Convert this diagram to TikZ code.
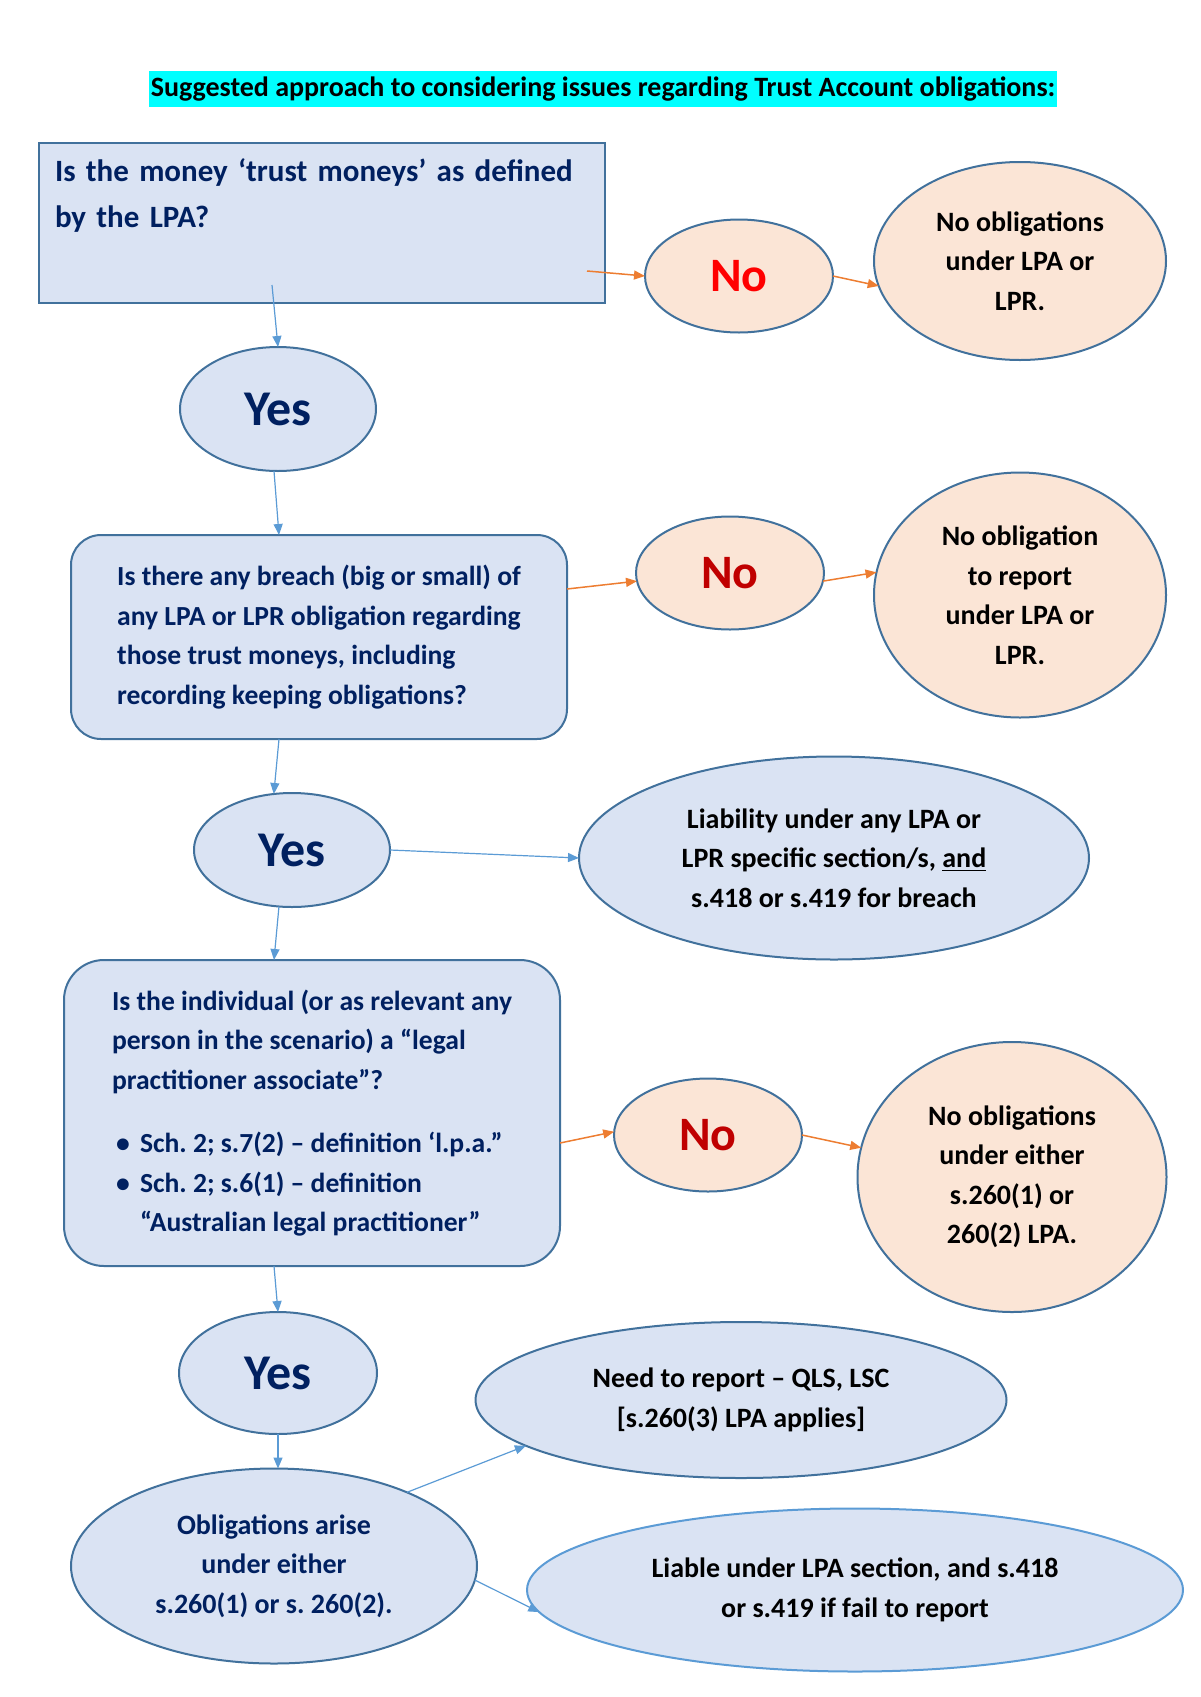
\documentclass[tikz,border=0pt]{standalone}
\usepackage{fontspec}
\setmainfont{Carlito}
\usetikzlibrary{shapes.geometric,arrows.meta}
\definecolor{boxblue}{HTML}{DAE3F3}
\definecolor{edgeblue}{HTML}{41719C}
\definecolor{peach}{HTML}{FBE5D6}
\definecolor{navy}{HTML}{002060}
\definecolor{arrowblue}{HTML}{5B9BD5}
\definecolor{arroworange}{HTML}{ED7D31}
\definecolor{nored}{HTML}{FF0000}
\definecolor{noreddark}{HTML}{C00000}
\definecolor{hilite}{HTML}{00FFFF}

\begin{document}
\begin{tikzpicture}[x=0.5pt,y=-0.5pt,
  every node/.style={font=\bfseries, inner sep=0pt, outer sep=0pt},
  qbox/.style={draw=edgeblue, line width=1pt, fill=boxblue, text=navy, align=left, font=\bfseries\frenchspacing\fontsize{13.8}{19.75}\selectfont},
  yesnode/.style={ellipse, draw=edgeblue, line width=1pt, fill=boxblue, text=navy, font=\bfseries\fontsize{25}{28}\selectfont},
  nonode/.style={ellipse, draw=edgeblue, line width=1pt, fill=peach, minimum width=94pt, minimum height=56.5pt, font=\bfseries\fontsize{24}{28}\selectfont},
  peachend/.style={ellipse, draw=edgeblue, line width=1pt, fill=peach, align=center, font=\bfseries\frenchspacing\fontsize{14}{19.75}\selectfont},
  blueend/.style={ellipse, draw=edgeblue, line width=1pt, fill=boxblue, align=center, font=\bfseries\frenchspacing\fontsize{14}{19.75}\selectfont},
  yesarrow/.style={draw=arrowblue, line width=0.6pt, -{Triangle[length=5.5pt,width=4.5pt]}},
  noarrow/.style={draw=arroworange, line width=0.75pt, -{Triangle[length=5.5pt,width=4.5pt]}}]
\useasboundingbox (0,0) rectangle (1200,1697);

\node[fill=hilite, inner xsep=1pt, inner ysep=3pt, font=\bfseries\fontsize{14}{16}\selectfont] (title) at (603,89) {Suggested approach to considering issues regarding Trust Account obligations:};

\node[qbox, text width=267pt, inner xsep=8pt, minimum height=80pt, font=\bfseries\frenchspacing\fontsize{15.5}{23}\selectfont] (money) at (322,223) {Is the money ‘trust moneys’ as defined\\by the LPA?\\ \strut};
\node[nonode, text=nored] (no1) at (739,276) {No};
\node[peachend, minimum width=146pt, minimum height=99pt] (none1) at (1020,261) {No obligations\\under LPA or\\LPR.};
\node[yesnode, minimum width=98pt, minimum height=62pt] (yes1) at (278,409) {Yes};

\node[qbox, rounded corners=15pt, minimum width=248pt, minimum height=102pt] (breach) at (319,637) {Is there any breach (big or small) of\\any LPA or LPR obligation regarding\\those trust moneys, including\\recording keeping obligations?};
\node[nonode, text=noreddark] (no2) at (730,573) {No};
\node[peachend, minimum width=146pt, minimum height=122.5pt] (none2) at (1020,595) {No obligation\\to report\\under LPA or\\LPR.};
\node[yesnode, minimum width=98pt, minimum height=57pt] (yes2) at (292,850) {Yes};
\node[blueend, minimum width=255pt, minimum height=101.5pt] (liab) at (834,858) {Liability under any LPA or\\LPR specific section/s, \underline{and}\\s.418 or s.419 for breach};

\node[qbox, rounded corners=20pt, minimum width=248pt, minimum height=153pt] (assoc) at (312,1113) {Is the individual (or as relevant any\\person in the scenario) a “legal\\practitioner associate”?\\[12pt]
\hspace*{2pt}\makebox[12pt][l]{\textbullet}Sch. 2; s.7(2) – definition ‘l.p.a.”\\
\hspace*{2pt}\makebox[12pt][l]{\textbullet}Sch. 2; s.6(1) – definition\\
\hspace*{14pt}“Australian legal practitioner”};
\node[nonode, text=noreddark] (no3) at (708,1135) {No};
\node[peachend, minimum width=154.5pt, minimum height=135pt] (none3) at (1012,1177) {No obligations\\under either\\s.260(1) or\\260(2) LPA.};
\node[yesnode, minimum width=99pt, minimum height=61pt] (yes3) at (278,1373) {Yes};

\node[blueend, text=navy, minimum width=203pt, minimum height=97.5pt] (arise) at (274,1566) {Obligations arise\\under either\\s.260(1) or s. 260(2).};
\node[blueend, minimum width=265.5pt, minimum height=78pt] (report) at (741,1400) {Need to report – QLS, LSC\\{}[s.260(3) LPA applies]};
\node[blueend, draw=arrowblue, minimum width=328pt, minimum height=81.5pt] (liable) at (855,1590) {Liable under LPA section, and s.418\\or s.419 if fail to report};

\draw[noarrow] ([xshift=-9pt,yshift=-24pt]money.east) -- (no1.west);
\draw[noarrow] (no1.east) -- (none1.190);
\draw[yesarrow] ([xshift=-25pt,yshift=9pt]money.south) -- (yes1.north);
\draw[yesarrow] ([xshift=-2pt]yes1.south) -- ([xshift=-20pt]breach.north);
\draw[noarrow] ([yshift=24pt]breach.east) -- (no2.185);
\draw[noarrow] (no2.355) -- (none2.171);
\draw[yesarrow] ([xshift=-20pt]breach.south) -- (yes2.108);
\draw[yesarrow] (yes2.east) -- (liab.west);
\draw[yesarrow] (yes2.257) -- ([xshift=-19pt]assoc.north);
\draw[noarrow] ([yshift=-15pt]assoc.east) -- (no3.178);
\draw[noarrow] (no3.east) -- (none3.169);
\draw[yesarrow] ([xshift=-19pt]assoc.south) -- (yes3.north);
\draw[yesarrow] (yes3.south) -- ([xshift=2pt]arise.north);
\draw[yesarrow] (arise.29) -- (report.192);
\draw[yesarrow] (arise.356) -- (liable.184);
\end{tikzpicture}
\end{document}
